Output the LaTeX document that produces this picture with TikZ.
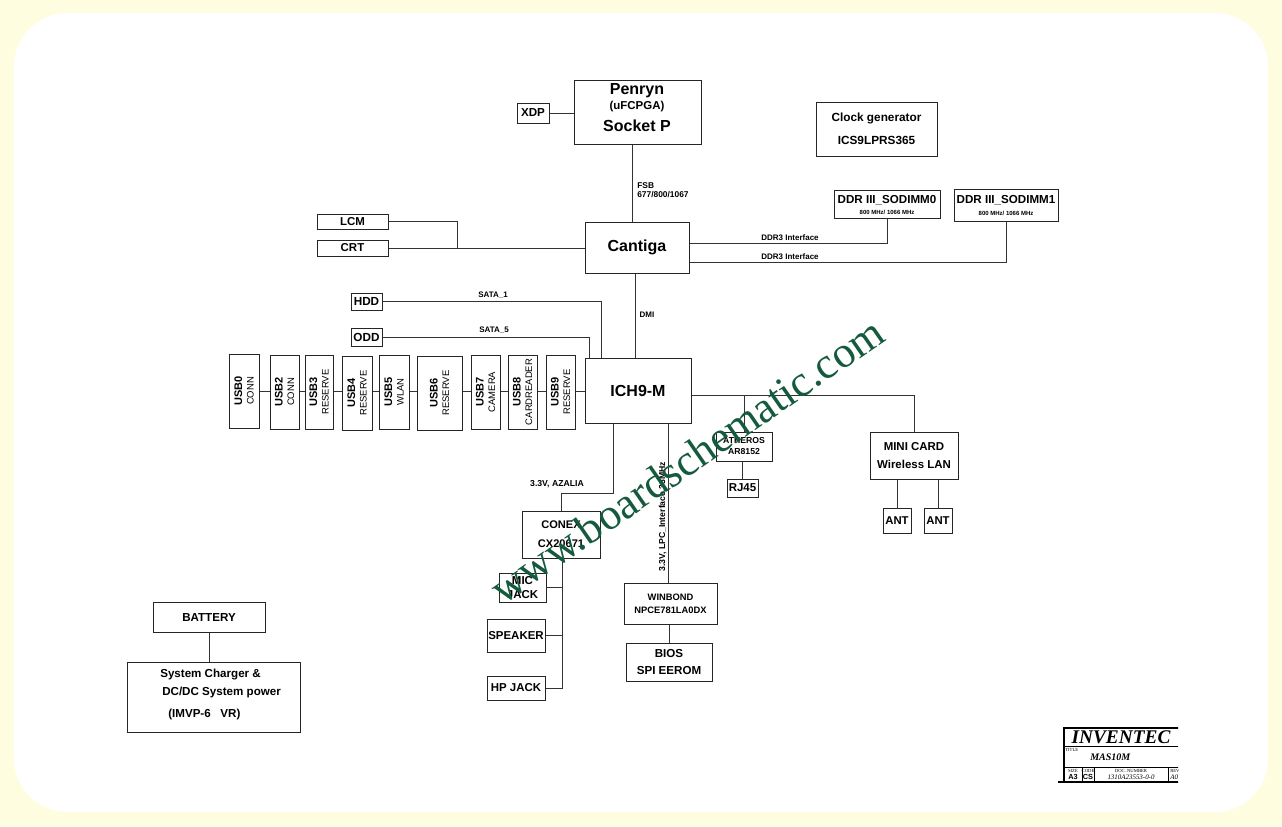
\documentclass[tikz,border=0pt]{standalone}
\usepackage{fontspec}
\setmainfont{Liberation Sans}
\newfontfamily\wmserif{Liberation Serif}
\definecolor{bgy}{HTML}{FFFDE0}
\definecolor{wm}{HTML}{145A3C}
\newcommand\fs[1]{\fontsize{#1}{#1}\selectfont}
\newcommand\bx[7][]{\node[box,minimum width={(#5-#3)*0.75pt},minimum height={(#6-#4)*0.75pt},#1] (#2) at ({(#3+#5)/2},{(#4+#6)/2}) {#7};}
\newcommand\ut[3]{\node[rotate=90,align=center,inner sep=0pt,font=\bfseries\fontsize{8.25}{8.6}\selectfont] (#1t) at (#1) {#2\\\mdseries\fontsize{7.1}{8.6}\selectfont #3};}
\begin{document}
\begin{tikzpicture}[x=0.75pt,y=-0.75pt,font=\bfseries,
 box/.style={draw=black!85,line width=0.75pt,inner sep=0pt,align=center},
 wire/.style={draw=black!80,line width=0.6pt},
 fsz/.style={font=\bfseries\fontsize{#1}{#1}\selectfont},
 fszl/.style 2 args={font=\bfseries\fontsize{#1}{#2}\selectfont},
 lbl/.style={inner sep=0pt,font=\bfseries\fontsize{6}{7}\selectfont}]
\useasboundingbox (0,0) rectangle (1282,826);
\fill[bgy] (0,0) rectangle (1282,826);
\fill[white, rounded corners=40pt] (14,13) rectangle (1268,812);

% boxes
\bx[fsz=8.7]{xdp}{517}{103}{549}{123}{XDP}
\bx{penryn}{574}{80}{701}{144}{}
\node[fsz=12] (penA) at (637,91) {Penryn};
\node[fsz=8.6] (penB) at (637,107) {(uFCPGA)};
\node[fsz=12] (penC) at (637,126) {Socket P};
\bx[fszl={8.85}{17.25}]{clk}{816}{102}{937}{156}{Clock generator\\ICS9LPRS365}
\bx[fsz=12]{cantiga}{585}{222}{689}{273}{Cantiga}
\bx{ddr0}{834}{190}{940}{218}{}
\node[fsz=8.7] (ddr0a) at (887,200) {DDR III\_SODIMM0};
\node[fsz=4.5] (ddr0b) at (887,212) {800 MHz/ 1066 MHz};
\bx{ddr1}{954}{189}{1058}{221}{}
\node[fsz=8.7] (ddr1a) at (1006,200) {DDR III\_SODIMM1};
\node[fsz=4.5] (ddr1b) at (1006,213) {800 MHz/ 1066 MHz};
\bx[fsz=8.6]{lcm}{317}{214}{388}{229}{LCM}
\bx[fsz=8.6]{crt}{317}{240}{388}{256}{CRT}
\bx[fsz=8.8]{hdd}{351}{293}{382}{310}{HDD}
\bx[fsz=8.8]{odd}{351}{328}{382}{346}{ODD}
\bx[fsz=12]{ich}{585}{358}{691}{423}{ICH9-M}
\bx{usb0}{229}{354}{259}{428}{}
\bx{usb2}{270}{355}{299}{429}{}
\bx{usb3}{305}{355}{333}{429}{}
\bx{usb4}{342}{356}{372}{430}{}
\bx{usb5}{379}{355}{409}{429}{}
\bx{usb6}{417}{356}{462}{430}{}
\bx{usb7}{471}{355}{500}{429}{}
\bx{usb8}{508}{355}{537}{429}{}
\bx{usb9}{546}{355}{575}{429}{}
\ut{usb0}{USB0}{CONN}
\ut{usb2}{USB2}{CONN}
\ut{usb3}{USB3}{RESERVE}
\ut{usb4}{USB4}{RESERVE}
\ut{usb5}{USB5}{WLAN}
\ut{usb6}{USB6}{RESERVE}
\ut{usb7}{USB7}{CAMERA}
\ut{usb8}{USB8}{CARDREADER}
\ut{usb9}{USB9}{RESERVE}
\bx[fszl={6.5}{8.25}]{atheros}{716}{432}{772}{461}{ATHEROS\\AR8152}
\bx[fsz=8.6]{rj45}{727}{479}{758}{497}{RJ45}
\bx[fszl={8.6}{13.5}]{minicard}{870}{432}{958}{479}{MINI CARD\\Wireless LAN}
\bx[fsz=8.5]{ant1}{883}{508}{911}{533}{ANT}
\bx[fsz=8.5]{ant2}{924}{508}{952}{533}{ANT}
\bx[fszl={8.3}{14.25}]{conex}{522}{511}{600}{558}{CONEX\\CX20671}
\bx[fszl={8.6}{10.5}]{mic}{499}{573}{546}{602}{MIC\\JACK}
\bx[fsz=8.6]{speaker}{487}{619}{545}{652}{SPEAKER}
\bx[fsz=8.6]{hp}{487}{676}{545}{700}{HP JACK}
\bx[fszl={7}{9.75}]{winbond}{624}{583}{717}{624}{WINBOND\\NPCE781LA0DX}
\bx[fszl={8.7}{12.75}]{bios}{626}{643}{712}{681}{BIOS\\SPI EEROM}
\bx[fsz=8.7]{battery}{153}{602}{265}{632}{BATTERY}
\bx{charger}{127}{662}{300}{732}{}
\node[anchor=west,inner sep=0pt,fsz=8.7] (chA) at (160,675) {System Charger \&};
\node[anchor=west,inner sep=0pt,fsz=8.7] (chB) at (162,692) {DC/DC System power};
\node[anchor=west,inner sep=0pt,fsz=8.7] (chC) at (168,714) {(IMVP-6\ \ \ VR)};

% junction coordinates
\coordinate (fsb) at (632,0);
\coordinate (dmi) at (635,0);
\coordinate (jx) at (457,0);
\coordinate (d0) at (0,243);
\coordinate (d1) at (0,262);
\coordinate (s1) at (601,0);
\coordinate (s5) at (589,0);
\coordinate (ly) at (0,391);
\coordinate (ry) at (0,395);
\coordinate (az) at (613,493);
\coordinate (ab) at (562,0);
\coordinate (lpc) at (668,0);

% connectors
\draw[wire] (xdp.east) -- (xdp.east -| penryn.west);
\draw[wire] (penryn.south -| fsb) -- (cantiga.north -| fsb);
\draw[wire] (lcm.east) -| (jx |- crt.east);
\draw[wire] (crt.east) -- (crt.east -| cantiga.west);
\draw[wire] (cantiga.east |- d0) -| (ddr0.south);
\draw[wire] (cantiga.east |- d1) -| (ddr1.south);
\draw[wire] (cantiga.south -| dmi) -- (ich.north -| dmi);
\draw[wire] (hdd.east) -| (s1 |- ich.north);
\draw[wire] (odd.east) -| (s5 |- ich.north);
\draw[wire] (usb0.east |- ly) -- (usb2.west |- ly);
\draw[wire] (usb2.east |- ly) -- (usb3.west |- ly);
\draw[wire] (usb3.east |- ly) -- (usb4.west |- ly);
\draw[wire] (usb4.east |- ly) -- (usb5.west |- ly);
\draw[wire] (usb5.east |- ly) -- (usb6.west |- ly);
\draw[wire] (usb6.east |- ly) -- (usb7.west |- ly);
\draw[wire] (usb7.east |- ly) -- (usb8.west |- ly);
\draw[wire] (usb8.east |- ly) -- (usb9.west |- ly);
\draw[wire] (usb9.east |- ly) -- (ich.west |- ly);
\draw[wire] (ich.east |- ry) -| (minicard.north);
\draw[wire] (atheros.north) -- (atheros.north |- ry);
\draw[wire] (atheros.south -| rj45) -- (rj45.north);
\draw[wire] (ant1.north) -- (ant1.north |- minicard.south);
\draw[wire] (ant2.north) -- (ant2.north |- minicard.south);
\draw[wire] (ich.south -| az) -- (az) -| (conex.north);
\draw[wire] (conex.south -| ab) -- (ab |- hp.east) -- (hp.east);
\draw[wire] (mic.east) -- (mic.east -| ab);
\draw[wire] (speaker.east) -- (speaker.east -| ab);
\draw[wire] (ich.south -| lpc) -- (winbond.north -| lpc);
\draw[wire] (winbond.south -| bios) -- (bios.north);
\draw[wire] (battery.south) -- (battery.south |- charger.north);

% labels
\node[lbl,anchor=north west,align=left,font=\bfseries\fontsize{6.3}{6.9}\selectfont] (fsbl) at (637,182) {FSB\\677/800/1067};
\node[lbl] (dmil) at (647,315) {DMI};
\node[lbl] (sata1) at (493,295) {SATA\_1};
\node[lbl] (sata5) at (494,330) {SATA\_5};
\node[lbl] (ddrl0) at (790,238) {DDR3 Interface};
\node[lbl] (ddrl1) at (790,257) {DDR3 Interface};
\node[lbl,font=\bfseries\fontsize{6.5}{7}\selectfont] (azl) at (557,484) {3.3V, AZALIA};
\node[lbl,rotate=90,anchor=base west,font=\bfseries\fontsize{6.5}{7}\selectfont] (lpcl) at (665,572) {3.3V, LPC\_Interface,33MHz};

% title block
\begin{scope}
\clip (1040,720) rectangle (1178,790);
\draw[line width=0.8pt] (1064,782) |- (1180,728);
\draw[line width=0.5pt] (1064,746) -- (1180,746);
\draw[line width=0.5pt] (1064,767) -- (1180,767);
\draw[line width=0.8pt] (1058,782) -- (1180,782);
\draw[line width=0.5pt] (1082,767) -- (1082,782);
\draw[line width=0.5pt] (1094,767) -- (1094,782);
\draw[line width=0.5pt] (1168,767) -- (1168,782);
\node[font=\wmserif\bfseries\itshape\fontsize{14.5}{14.5}\selectfont] (inv) at (1121,737) {INVENTEC};
\node[anchor=west,inner sep=0pt,font=\wmserif\mdseries\fontsize{3.5}{3.5}\selectfont] (ttl) at (1065,750) {TITLE};
\node[anchor=west,inner sep=0pt,font=\wmserif\bfseries\itshape\fontsize{7.5}{7.5}\selectfont] (mas) at (1090,757) {MAS10M};
\node[inner sep=0pt,font=\wmserif\mdseries\fontsize{3.5}{3.5}\selectfont] (sz) at (1073,771) {SIZE};
\node[inner sep=0pt,fsz=5.5] (sza) at (1073,777) {A3};
\node[inner sep=0pt,font=\wmserif\mdseries\fontsize{3.5}{3.5}\selectfont] (cd) at (1088,771) {CODE};
\node[inner sep=0pt,fsz=5.5] (cda) at (1088,777) {CS};
\node[inner sep=0pt,font=\wmserif\mdseries\fontsize{3.5}{3.5}\selectfont] (dn) at (1131,771) {DOC. NUMBER};
\node[inner sep=0pt,font=\wmserif\mdseries\itshape\fontsize{5.2}{5.2}\selectfont] (dna) at (1131,777) {1310A23553-0-0};
\node[inner sep=0pt,anchor=west,font=\wmserif\mdseries\fontsize{3.5}{3.5}\selectfont] (rv) at (1170,771) {REV};
\node[inner sep=0pt,anchor=west,font=\wmserif\mdseries\itshape\fontsize{5.2}{5.2}\selectfont] (rva) at (1170,777) {A0};
\end{scope}

% watermark
\node[rotate=34.7,text=wm,inner sep=0pt,font=\wmserif\mdseries\fontsize{33}{33}\selectfont] (wmk) at (687,460) {www.boardschematic.com};
\end{tikzpicture}
\end{document}
